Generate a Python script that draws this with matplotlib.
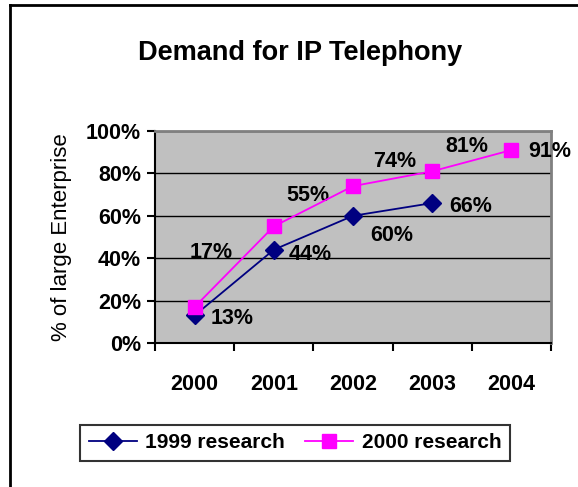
import matplotlib.pyplot as plt
from matplotlib.lines import Line2D
from matplotlib.ticker import FixedLocator, PercentFormatter

plt.rcParams['font.family'] = ['Liberation Sans', 'DejaVu Sans']

years = ['2000', '2001', '2002', '2003', '2004']
research_1999 = [13, 44, 60, 66]
research_2000 = [17, 55, 74, 81, 91]

# label offsets in pixels (hand placed like in the original)
off_1999 = [(38, -3), (36, -5), (39, -20), (38, -3)]
off_2000 = [(17, 54), (34, 31), (42, 25), (35, 25), (38, -1)]

fig = plt.figure(figsize=(5.78, 4.87), dpi=100)
ax = fig.add_axes([155 / 578, 1 - 343 / 487, 396 / 578, 212 / 487])
ax.set_facecolor('#C0C0C0')

x1 = list(range(len(research_1999)))
x2 = list(range(len(research_2000)))
ax.plot(x1, research_1999, color='#000080', lw=1.3, marker='D', ms=9,
        mfc='#000080', mec='#000080', label='1999 research', zorder=4)
ax.plot(x2, research_2000, color='#FF00FF', lw=1.3, marker='s', ms=10,
        mfc='#FF00FF', mec='#FF00FF', label='2000 research', zorder=5)

for x, v, o in zip(x1, research_1999, off_1999):
    ax.annotate(f'{v}%', (x, v), xytext=o, textcoords='offset pixels',
                ha='center', va='center', fontsize=15.5, fontweight='bold')
for x, v, o in zip(x2, research_2000, off_2000):
    ax.annotate(f'{v}%', (x, v), xytext=o, textcoords='offset pixels',
                ha='center', va='center', fontsize=15.5, fontweight='bold')

ax.set_xlim(-0.5, len(years) - 0.5)
ax.set_ylim(0, 100)
ax.set_yticks([0, 20, 40, 60, 80, 100])
ax.yaxis.set_major_formatter(PercentFormatter(decimals=0))
ax.yaxis.grid(True, color='black', lw=1)
ax.set_axisbelow(True)

ax.set_xticks(range(len(years)))
ax.set_xticklabels(years)
ax.xaxis.set_minor_locator(FixedLocator([i - 0.5 for i in range(len(years) + 1)]))
ax.tick_params(axis='x', which='major', length=0, pad=22)
ax.tick_params(axis='x', which='minor', length=6, width=1.5, direction='out')
ax.tick_params(axis='y', length=6, width=1.5, direction='out', pad=4)
for lab in ax.get_xticklabels() + ax.get_yticklabels():
    lab.set_fontsize(15.5)
    lab.set_fontweight('bold')

ax.spines['left'].set_linewidth(1.5)
ax.spines['bottom'].set_linewidth(1.5)
ax.spines['top'].set_color('#808080')
ax.spines['right'].set_color('#808080')
ax.spines['top'].set_linewidth(2)
ax.spines['right'].set_linewidth(2)

fig.text(62 / 578, 1 - 237 / 487, '% of large Enterprise', rotation=90,
         ha='center', va='center', fontsize=16)
fig.text(300 / 578, 1 - 53 / 487, 'Demand for IP Telephony',
         ha='center', va='center', fontsize=19.5, fontweight='bold')

leg = fig.legend(loc='center', bbox_to_anchor=(295 / 578, 1 - 443 / 487),
                 ncol=2, frameon=True, fancybox=False,
                 edgecolor='black', handlelength=2.3, columnspacing=1.0,
                 handletextpad=0.4, borderpad=0.4,
                 prop={'weight': 'bold', 'size': 15})
leg.get_frame().set_linewidth(1.5)

# chart border (left and top edges visible)
fig.add_artist(Line2D([10 / 578, 10 / 578], [0, 1 - 5 / 487], color='black', lw=2))
fig.add_artist(Line2D([10 / 578, 1], [1 - 5 / 487, 1 - 5 / 487], color='black', lw=2))

fig.savefig('out.png', dpi=100)
